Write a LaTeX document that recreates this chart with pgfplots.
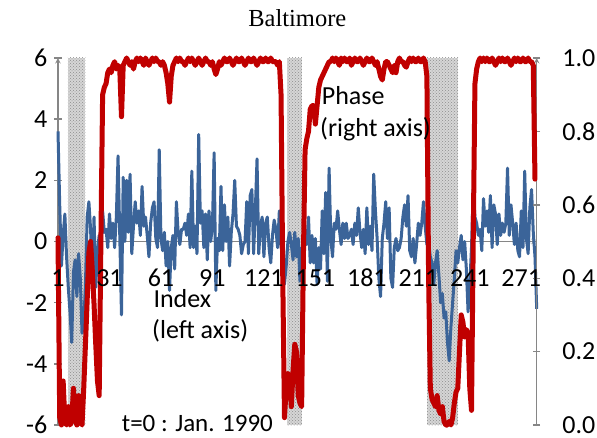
\documentclass[border=0pt]{standalone}
\usepackage{pgfplots}
\pgfplotsset{compat=1.18}
\usepackage{fontspec}
\setmainfont{Carlito}
\newfontfamily\titlefont{Liberation Serif}
\usetikzlibrary{patterns}
\definecolor{idxblue}{HTML}{3B6499}
\definecolor{phred}{HTML}{C00000}
\definecolor{axgray}{HTML}{868686}
\begin{document}
\begin{tikzpicture}
\useasboundingbox (-58pt,-12pt) rectangle (539pt,425pt);
\pgfplotsset{
  common/.style={
    at={(0pt,0pt)}, anchor=south west,
    scale only axis, width=478.7pt, height=367pt,
    xmin=1, xmax=280,
    tick label style={font=\fontsize{26}{30}\selectfont},
    axis line style={draw=axgray, line width=1.4pt, -},
    major tick length=7pt, tick align=outside,
  }
}
\begin{axis}[common,
  ymin=-6, ymax=6,
  axis x line=middle, axis y line=left,
  xtick={1,31,61,91,121,151,181,211,241,271},
  xticklabels={},
  xtick style={draw=none},
  ytick={-6,-4,-2,0,2,4,6},
  yticklabels={-6,-4,-2,0,2,4,6},
  ytick style={draw=axgray, line width=1.4pt},
  yticklabel style={anchor=east, inner sep=0pt, xshift=-7pt},
  clip=false,
]
\fill[preaction={fill=gray!32}, pattern=crosshatch dots, pattern color=gray!90] (axis cs:6.7,-6) rectangle (axis cs:16.9,6);
\fill[preaction={fill=gray!32}, pattern=crosshatch dots, pattern color=gray!90] (axis cs:134.7,-6) rectangle (axis cs:143.2,6);
\fill[preaction={fill=gray!32}, pattern=crosshatch dots, pattern color=gray!90] (axis cs:216.2,-6) rectangle (axis cs:234.3,6);
\addplot[idxblue, line width=3pt, line join=round, mark=none] coordinates {
(1,3.6) (2,1.2) (3,-0.8) (4,0.2) (5,0.9) (6,-0.5) (7,-1.5) (8,-2.3) (9,-3.3) (10,-1.0)
(11,-0.6) (12,-1.8) (13,-0.4) (14,-1.2) (15,-3.0) (16,-2.7) (17,-1.4) (18,0.8) (19,1.3) (20,0.4)
(21,-1.4) (22,0.8) (23,-1.5) (24,-0.3) (25,0.2) (26,-0.5) (27,1.0) (28,0.3) (29,0.4) (30,-0.2)
(31,0.9) (32,0.1) (33,0.6) (34,-0.2) (35,0.8) (36,2.8) (37,0.2) (38,-2.4) (39,2.1) (40,0.0)
(41,2.0) (42,0.3) (43,2.2) (44,-0.4) (45,0.5) (46,1.3) (47,0.6) (48,1.0) (49,0.2) (50,1.8)
(51,0.5) (52,0.8) (53,0.2) (54,-0.5) (55,0.6) (56,1.1) (57,1.3) (58,0.1) (59,-0.2) (60,3.0)
(61,0.1) (62,-0.3) (63,0.3) (64,-0.8) (65,0.0) (66,-1.6) (67,-0.2) (68,0.2) (69,-0.9) (70,1.3)
(71,0.3) (72,-0.1) (73,0.4) (74,0.4) (75,0.6) (76,0.2) (77,0.9) (78,-0.2) (79,2.3) (80,-0.2)
(81,0.5) (82,-0.4) (83,3.5) (84,0.6) (85,1.0) (86,-0.2) (87,0.9) (88,-0.6) (89,1.0) (90,0.0)
(91,0.5) (92,2.9) (93,-1.6) (94,0.1) (95,-0.3) (96,1.8) (97,-0.3) (98,1.2) (99,0.0) (100,0.8)
(101,-0.8) (102,0.3) (103,0.9) (104,2.0) (105,0.5) (106,0.4) (107,0.2) (108,-0.4) (109,-0.1) (110,0.0)
(111,1.3) (112,-0.4) (113,1.5) (114,1.7) (115,-0.4) (116,1.0) (117,2.7) (118,-0.4) (119,0.5) (120,0.8)
(121,-0.5) (122,0.6) (123,0.8) (124,-0.2) (125,-0.7) (126,0.2) (127,0.7) (128,0.4) (129,-0.2) (130,1.0)
(131,-0.1) (132,-0.6) (133,-1.4) (134,-0.8) (135,0.0) (136,0.3) (137,-0.1) (138,-0.6) (139,0.3) (140,-0.5)
(141,0.1) (142,-1.3) (143,-0.2) (144,-0.8) (145,0.3) (146,-0.1) (147,0.8) (148,-0.7) (149,0.2) (150,-0.7)
(151,0.1) (152,-1.4) (153,-0.2) (154,-0.9) (155,1.0) (156,-0.4) (157,1.6) (158,-1.3) (159,2.4) (160,0.1)
(161,-0.5) (162,0.6) (163,0.4) (164,1.0) (165,0.4) (166,-0.1) (167,0.6) (168,0.1) (169,0.6) (170,0.1)
(171,0.2) (172,0.4) (173,-0.1) (174,0.6) (175,0.2) (176,1.1) (177,0.3) (178,-0.2) (179,0.4) (180,-0.4)
(181,1.1) (182,-0.1) (183,0.5) (184,-0.3) (185,2.2) (186,1.0) (187,0.1) (188,-1.2) (189,-1.8) (190,0.1)
(191,0.6) (192,1.3) (193,0.1) (194,1.1) (195,-1.2) (196,-1.5) (197,-0.2) (198,0.1) (199,-0.3) (200,-0.2)
(201,0.1) (202,0.8) (203,1.2) (204,0.5) (205,1.5) (206,-0.3) (207,-0.5) (208,0.1) (209,-0.7) (210,-0.1)
(211,0.6) (212,0.2) (213,0.6) (214,1.3) (215,0.5) (216,-0.1) (217,0.0) (218,-0.5) (219,-0.7) (220,-1.4)
(221,-0.7) (222,-0.3) (223,-1.1) (224,-2.0) (225,-1.7) (226,-2.5) (227,-2.3) (228,-3.3) (229,-3.9) (230,-2.8)
(231,-2.0) (232,-1.2) (233,-0.3) (234,-0.7) (235,-0.2) (236,0.2) (237,-0.6) (238,0.0) (239,-0.9) (240,-2.3)
(241,-1.4) (242,-0.2) (243,1.7) (244,0.8) (245,0.6) (246,0.2) (247,0.4) (248,-0.3) (249,1.4) (250,0.5)
(251,1.0) (252,0.3) (253,1.5) (254,-0.2) (255,1.2) (256,0.9) (257,-0.1) (258,0.9) (259,0.2) (260,0.6)
(261,0.3) (262,0.6) (263,2.4) (264,0.2) (265,1.2) (266,0.6) (267,-0.1) (268,0.6) (269,-0.3) (270,-0.5)
(271,1.0) (272,-0.2) (273,2.3) (274,0.1) (275,-0.4) (276,1.1) (277,1.7) (278,0.3) (279,-0.5) (280,-2.2)
};
\end{axis}
\begin{axis}[common,
  ymin=0, ymax=1,
  axis x line=none, axis y line=right,
  ytick={0,0.2,0.4,0.6,0.8,1},
  yticklabels={0.0,0.2,0.4,0.6,0.8,1.0},
  ytick style={draw=axgray, line width=1.4pt},
  yticklabel style={anchor=west, inner sep=0pt, xshift=22pt},
  clip=false,
]
\addplot[phred, line width=5pt, line join=round, line cap=round, mark=none] coordinates {
(1,0.51) (2,0.02) (3,0.00) (4,0.12) (5,0.01) (6,0.00) (7,0.05) (8,0.00) (9,0.01) (10,0.10)
(11,0.02) (12,0.00) (13,0.08) (14,0.01) (15,0.00) (16,0.10) (17,0.22) (18,0.34) (19,0.47) (20,0.50)
(21,0.42) (22,0.33) (23,0.22) (24,0.12) (25,0.08) (26,0.50) (27,0.90) (28,0.92) (29,0.93) (30,0.96)
(31,0.97) (32,0.96) (33,0.98) (34,0.99) (35,0.97) (36,0.98) (37,0.97) (38,0.84) (39,0.98) (40,0.99)
(41,1.00) (42,0.99) (43,0.98) (44,0.99) (45,0.97) (46,0.99) (47,1.00) (48,0.99) (49,1.00) (50,0.99)
(51,0.98) (52,1.00) (53,0.99) (54,0.98) (55,0.99) (56,1.00) (57,0.99) (58,1.00) (59,0.99) (60,0.99)
(61,0.98) (62,0.99) (63,0.98) (64,0.96) (65,0.93) (66,0.88) (67,0.95) (68,0.98) (69,0.99) (70,1.00)
(71,0.99) (72,1.00) (73,0.99) (74,0.99) (75,0.98) (76,0.99) (77,1.00) (78,0.99) (79,1.00) (80,0.99)
(81,0.98) (82,0.99) (83,1.00) (84,0.99) (85,0.98) (86,0.99) (87,1.00) (88,0.99) (89,0.99) (90,0.98)
(91,0.99) (92,0.97) (93,0.955) (94,0.97) (95,0.99) (96,0.98) (97,0.99) (98,1.00) (99,0.99) (100,0.99)
(101,1.00) (102,0.99) (103,0.98) (104,0.99) (105,1.00) (106,0.99) (107,0.99) (108,1.00) (109,0.99) (110,0.98)
(111,0.99) (112,1.00) (113,0.99) (114,0.99) (115,1.00) (116,0.99) (117,0.98) (118,0.99) (119,1.00) (120,0.99)
(121,0.99) (122,1.00) (123,0.99) (124,0.99) (125,1.00) (126,0.99) (127,0.99) (128,0.99) (129,0.98) (130,0.99)
(131,0.90) (132,0.40) (133,0.02) (134,0.10) (135,0.14) (136,0.12) (137,0.05) (138,0.15) (139,0.22) (140,0.20)
(141,0.08) (142,0.06) (143,0.05) (144,0.45) (145,0.75) (146,0.78) (147,0.80) (148,0.86) (149,0.87) (150,0.87)
(151,0.82) (152,0.87) (153,0.92) (154,0.94) (155,0.95) (156,0.96) (157,0.97) (158,0.98) (159,0.99) (160,0.99)
(161,1.00) (162,0.99) (163,1.00) (164,0.99) (165,0.98) (166,1.00) (167,0.99) (168,1.00) (169,0.99) (170,0.99)
(171,1.00) (172,0.98) (173,0.99) (174,1.00) (175,0.99) (176,0.99) (177,1.00) (178,0.99) (179,0.98) (180,0.99)
(181,1.00) (182,0.99) (183,0.99) (184,1.00) (185,0.99) (186,0.98) (187,0.99) (188,0.97) (189,0.95) (190,0.94)
(191,0.97) (192,0.99) (193,0.99) (194,0.98) (195,0.97) (196,0.96) (197,0.98) (198,0.96) (199,0.99) (200,1.00)
(201,0.99) (202,0.99) (203,0.98) (204,0.975) (205,0.99) (206,1.00) (207,0.99) (208,1.00) (209,0.99) (210,0.99)
(211,1.00) (212,0.99) (213,0.99) (214,1.00) (215,0.99) (216,0.95) (217,0.40) (218,0.10) (219,0.07) (220,0.06)
(221,0.05) (222,0.08) (223,0.04) (224,0.03) (225,0.05) (226,0.01) (227,0.00) (228,0.00) (229,0.01) (230,0.00)
(231,0.02) (232,0.06) (233,0.09) (234,0.10) (235,0.20) (236,0.30) (237,0.28) (238,0.24) (239,0.26) (240,0.25)
(241,0.10) (242,0.04) (243,0.50) (244,0.93) (245,0.97) (246,0.99) (247,1.00) (248,0.99) (249,1.00) (250,0.99)
(251,1.00) (252,0.99) (253,0.99) (254,1.00) (255,0.99) (256,0.98) (257,0.99) (258,1.00) (259,0.99) (260,1.00)
(261,0.99) (262,0.99) (263,1.00) (264,0.99) (265,0.98) (266,0.99) (267,1.00) (268,0.99) (269,1.00) (270,0.99)
(271,0.99) (272,1.00) (273,0.99) (274,0.99) (275,1.00) (276,0.99) (277,0.99) (278,0.98) (279,0.67)
};
\end{axis}
\begin{axis}[common,
  ymin=-6, ymax=6,
  axis x line=middle, axis y line=none,
  x axis line style={draw=none},
  xtick={1,31,61,91,121,151,181,211,241,271},
  xticklabels={1,31,61,91,121,151,181,211,241,271},
  xtick style={draw=none},
  xticklabel style={anchor=base, inner sep=0pt, yshift=-41.5pt},
  ytick=\empty,
]
\end{axis}
\node[anchor=base, inner sep=0pt, font=\titlefont\fontsize{24.5}{28}\selectfont] at (239.3pt,398.5pt) {Baltimore};
\node[anchor=base west, inner sep=0pt, font=\fontsize{26}{30}\selectfont] at (263.7pt,320pt) {Phase};
\node[anchor=base west, inner sep=0pt, font=\fontsize{26}{30}\selectfont] at (262pt,288pt) {(right axis)};
\node[anchor=base west, inner sep=0pt, font=\fontsize{26}{30}\selectfont] at (95.3pt,118pt) {Index};
\node[anchor=base west, inner sep=0pt, font=\fontsize{26}{30}\selectfont] at (94pt,87pt) {(left axis)};
\node[anchor=base west, inner sep=0pt, font=\fontsize{25}{30}\selectfont] at (63.7pt,-6pt) {t=0 : Jan. 1990};
\end{tikzpicture}
\end{document}
